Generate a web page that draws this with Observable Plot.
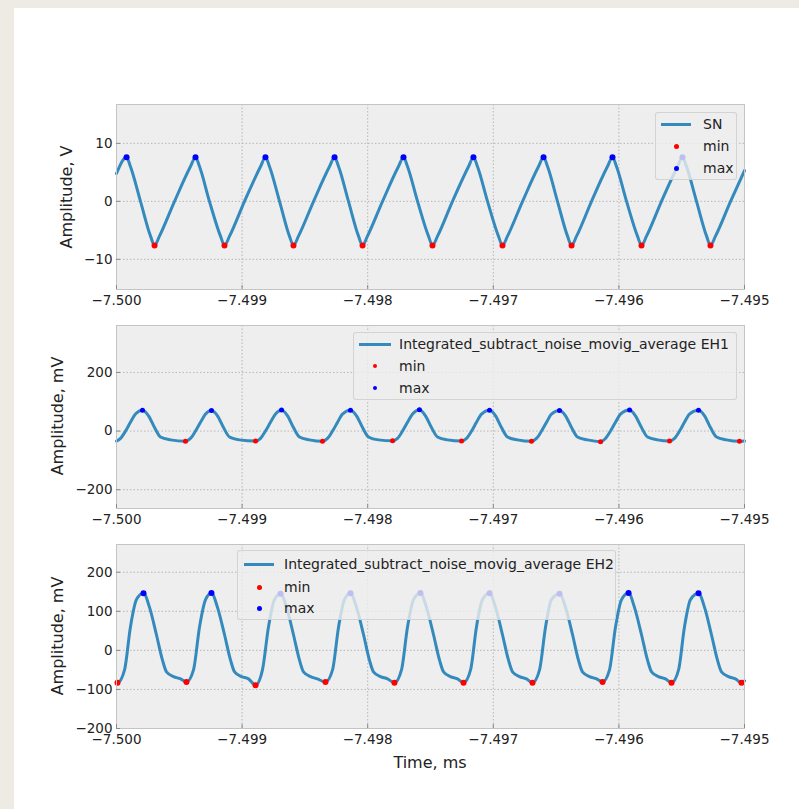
<!DOCTYPE html>
<html><head><meta charset="utf-8">
<script src="https://cdn.jsdelivr.net/npm/d3@7"></script>
<script src="https://cdn.jsdelivr.net/npm/@observablehq/plot@0.6"></script>
<style>
body{margin:0;background:#eeebe5;width:799px;height:809px;overflow:hidden;position:relative;font-family:"DejaVu Sans",sans-serif}
#sheet{position:absolute;left:14px;top:8px;width:785px;height:801px;background:#fff}
.panel{position:absolute;left:0}
.legend{position:absolute;background:rgba(238,238,238,0.8);border:1px solid rgba(204,204,204,0.8);border-radius:3px;box-sizing:border-box;font-size:14px;color:#222}
.legend .h{position:absolute}
.legend .t{position:absolute;line-height:16px;white-space:nowrap}
.alabel{position:absolute;font-size:16px;color:#222;white-space:nowrap;line-height:18px}
</style>
</head><body>
<div id="sheet"></div>
<div id="root"></div>
<script>
// ---------- data ----------
const xTicks = [-7.500, -7.499, -7.498, -7.497, -7.496, -7.495];

// Panel 1 : SN (V)
const snTime = [-7.5,
  -7.49992, -7.499889, -7.499809, -7.499729, -7.499697, -7.499658, -7.499538, -7.499411,
  -7.499371, -7.499339, -7.49926, -7.499172, -7.49914, -7.4991, -7.498981, -7.498853,
  -7.498814, -7.498782, -7.498702, -7.498623, -7.498591, -7.498551, -7.498431, -7.498304,
  -7.498264, -7.498232, -7.498153, -7.498073, -7.498041, -7.498002, -7.497882, -7.497755,
  -7.497715, -7.497683, -7.497603, -7.497516, -7.497484, -7.497444, -7.497325, -7.497197,
  -7.497158, -7.497126, -7.497046, -7.496959, -7.496927, -7.496887, -7.496767, -7.49664,
  -7.4966, -7.496568, -7.496489, -7.496409, -7.496377, -7.496337, -7.496218, -7.496091,
  -7.496051, -7.496019, -7.495939, -7.495852, -7.49582, -7.49578, -7.495661, -7.495533,
  -7.495494, -7.495462, -7.495382, -7.495302, -7.495271, -7.495231, -7.495111, -7.495];
const snValue = [4.8,
  7.6, 6, 0, -6, -7.6, -6, 0, 6,
  7.6, 6, 0, -6, -7.6, -6, 0, 6,
  7.6, 6, 0, -6, -7.6, -6, 0, 6,
  7.6, 6, 0, -6, -7.6, -6, 0, 6,
  7.6, 6, 0, -6, -7.6, -6, 0, 6,
  7.6, 6, 0, -6, -7.6, -6, 0, 6,
  7.6, 6, 0, -6, -7.6, -6, 0, 6,
  7.6, 6, 0, -6, -7.6, -6, 0, 6,
  7.6, 6, 0, -6, -7.6, -6, 0, 5.3];
const snMinTime = [-7.499697, -7.49914, -7.498591, -7.498041, -7.497484, -7.496927, -7.496377, -7.49582, -7.495271];
const snMinValue = [-7.6, -7.6, -7.6, -7.6, -7.6, -7.6, -7.6, -7.6, -7.6];
const snMaxTime = [-7.49992, -7.499371, -7.498814, -7.498264, -7.497715, -7.497158, -7.4966, -7.496051, -7.495494];
const snMaxValue = [7.6, 7.6, 7.6, 7.6, 7.6, 7.6, 7.6, 7.6, 7.6];
const snYTicks = [-10, 0, 10];

// Panel 2 : EH1 (mV)
const eh1Time = [-7.5, -7.499968, -7.499928, -7.499889, -7.499849, -7.499793, -7.499745, -7.499697, -7.49965, -7.49957, -7.499451,
  -7.499411, -7.499371, -7.499331, -7.499291, -7.499244, -7.499196, -7.499148, -7.4991, -7.499021, -7.498893,
  -7.498853, -7.498814, -7.498774, -7.498734, -7.498686, -7.498638, -7.498591, -7.498543, -7.498463, -7.49836,
  -7.49832, -7.49828, -7.49824, -7.498201, -7.498137, -7.498089, -7.498041, -7.497994, -7.497914, -7.497802,
  -7.497763, -7.497723, -7.497683, -7.497643, -7.497588, -7.49754, -7.497492, -7.497444, -7.497365, -7.497253,
  -7.497213, -7.497173, -7.497134, -7.497094, -7.49703, -7.496982, -7.496935, -7.496887, -7.496807, -7.496696,
  -7.496656, -7.496616, -7.496576, -7.496537, -7.496473, -7.496425, -7.496377, -7.49633, -7.49625, -7.496146,
  -7.496107, -7.496067, -7.496027, -7.495987, -7.495915, -7.495868, -7.49582, -7.495772, -7.495693, -7.495597,
  -7.495557, -7.495517, -7.495478, -7.495438, -7.495366, -7.495318, -7.495271, -7.495223, -7.495143, -7.49504,
  -7.495];
const eh1Value = [-34, -25, 0, 30, 58, 71, 52, 12, -20, -30, -35,
  -25, 0, 30, 58, 70, 52, 12, -20, -30, -34,
  -25, 0, 30, 58, 72, 52, 12, -20, -30, -35,
  -25, 0, 30, 58, 71, 52, 12, -20, -30, -33,
  -25, 0, 30, 58, 73, 52, 12, -20, -30, -34,
  -25, 0, 30, 58, 71, 52, 12, -20, -30, -35,
  -25, 0, 30, 58, 70, 52, 12, -20, -30, -36,
  -25, 0, 30, 58, 72, 52, 12, -20, -30, -34,
  -25, 0, 30, 58, 71, 52, 12, -20, -30, -35,
  -34];
const eh1MinTime = [-7.499451, -7.498893, -7.49836, -7.497802, -7.497253, -7.496696, -7.496146, -7.495597, -7.49504];
const eh1MinValue = [-35, -34, -35, -33, -34, -35, -36, -34, -35];
const eh1MaxTime = [-7.499793, -7.499244, -7.498686, -7.498137, -7.497588, -7.49703, -7.496473, -7.495915, -7.495366];
const eh1MaxValue = [71, 70, 72, 71, 73, 71, 70, 72, 71];
const eh1YTicks = [-200, 0, 200];

// Panel 3 : EH2 (mV)
const eh2Time = [-7.5, -7.499992,
  -7.499936, -7.499889, -7.499841, -7.499785, -7.499737, -7.499682, -7.499634, -7.499602, -7.499546, -7.49949, -7.499443,
  -7.499387, -7.499339, -7.499291, -7.499244, -7.499196, -7.49914, -7.499092, -7.49906, -7.499005, -7.498949, -7.498893,
  -7.498838, -7.49879, -7.498742, -7.498694, -7.498646, -7.498591, -7.498543, -7.498511, -7.498455, -7.4984, -7.498336,
  -7.49828, -7.498232, -7.498185, -7.498137, -7.498089, -7.498033, -7.497986, -7.497954, -7.497898, -7.497842, -7.497787,
  -7.497731, -7.497683, -7.497635, -7.49758, -7.497532, -7.497476, -7.497428, -7.497396, -7.497341, -7.497285, -7.497237,
  -7.497181, -7.497134, -7.497086, -7.49703, -7.496982, -7.496927, -7.496879, -7.496847, -7.496791, -7.496736, -7.496688,
  -7.496632, -7.496584, -7.496537, -7.496473, -7.496425, -7.496369, -7.496322, -7.49629, -7.496234, -7.496178, -7.49613,
  -7.496075, -7.496027, -7.495979, -7.495923, -7.495876, -7.49582, -7.495772, -7.49574, -7.495685, -7.495629, -7.495581,
  -7.495525, -7.495478, -7.49543, -7.495366, -7.495318, -7.495263, -7.495215, -7.495183, -7.495127, -7.495072, -7.495024,
  -7.495];
const eh2Value = [-81, -83,
  -50, 60, 130, 146, 110, 40, -25, -55, -67, -73, -81,
  -50, 60, 130, 147, 110, 40, -25, -55, -67, -73, -89,
  -50, 60, 130, 145, 110, 40, -25, -55, -67, -73, -81,
  -50, 60, 130, 146, 110, 40, -25, -55, -67, -73, -83,
  -50, 60, 130, 147, 110, 40, -25, -55, -67, -73, -83,
  -50, 60, 130, 146, 110, 40, -25, -55, -67, -73, -83,
  -50, 60, 130, 145, 110, 40, -25, -55, -67, -73, -81,
  -50, 60, 130, 147, 110, 40, -25, -55, -67, -73, -83,
  -50, 60, 130, 146, 110, 40, -25, -55, -67, -73, -83,
  -78];
const eh2MinTime = [-7.499992, -7.499443, -7.498893, -7.498336, -7.497787, -7.497237, -7.496688, -7.49613, -7.495581, -7.495024];
const eh2MinValue = [-83, -81, -89, -81, -83, -83, -83, -81, -83, -83];
const eh2MaxTime = [-7.499785, -7.499244, -7.498694, -7.498137, -7.49758, -7.49703, -7.496473, -7.495923, -7.495366];
const eh2MaxValue = [146, 147, 145, 146, 147, 146, 145, 147, 146];
const eh2YTicks = [-200, -100, 0, 100, 200];

// ---------- drawing ----------
const LINE = "#348ABD";
const fmtX = d3.format(".3f");
const fmtY = d3.format("d");

function panel(o) {
  const line = o.t.map((t, i) => ({t, v: o.v[i]}));
  const mins = o.minT.map((t, i) => ({t, v: o.minV[i]}));
  const maxs = o.maxT.map((t, i) => ({t, v: o.maxV[i]}));
  const marks = [
    Plot.frame({fill: "#eeeeee", stroke: null}),
    Plot.gridX(xTicks, {stroke: "#a8a8a8", strokeOpacity: 1, strokeDasharray: "1.5,2", strokeWidth: 0.8}),
    Plot.gridY(o.yTicks, {stroke: "#a8a8a8", strokeOpacity: 1, strokeDasharray: "1.5,2", strokeWidth: 0.8}),
    Plot.line(line, {x: "t", y: "v", stroke: LINE, strokeWidth: 3, curve: "monotone-x"}),
    Plot.dot(mins, {x: "t", y: "v", fill: "#ff0000", r: o.r, stroke: null}),
    Plot.dot(maxs, {x: "t", y: "v", fill: "#0000ff", r: o.r, stroke: null}),
    Plot.frame({stroke: "#c4c4c4", strokeWidth: 1}),
    Plot.axisX(xTicks, {tickFormat: fmtX, tickSize: -4, tickPadding: 10, stroke: "#888", fill: "#222", label: null}),
    Plot.axisY(o.yTicks, {tickFormat: fmtY, tickSize: -4, tickPadding: 8, stroke: "#888", fill: "#222", label: null})
  ];
  const svg = Plot.plot({
    width: 799, height: o.height,
    marginLeft: 116, marginRight: 55, marginTop: 10, marginBottom: o.marginBottom,
    style: {fontFamily: "DejaVu Sans", fontSize: "13.5px", background: "transparent", color: "#222", overflow: "visible"},
    x: {domain: [-7.5, -7.495]},
    y: {domain: o.yDomain},
    marks
  });
  svg.classList.add("panel");
  svg.style.top = o.top + "px";
  return svg;
}

function legend(o) {
  const div = document.createElement("div");
  div.className = "legend";
  Object.assign(div.style, {left: o.left + "px", top: o.top + "px", width: o.w + "px", height: o.h + "px"});
  const items = [
    {kind: "line", text: o.label},
    {kind: "dot", color: "#ff0000", text: "min"},
    {kind: "dot", color: "#0000ff", text: "max"}
  ];
  items.forEach((it, i) => {
    const cy = o.rows[i];
    const h = document.createElement("div");
    h.className = "h";
    if (it.kind === "line") {
      Object.assign(h.style, {left: o.hx + "px", top: (cy - 1.5) + "px", width: o.hw + "px", height: "3px", background: LINE});
    } else {
      const s = o.dot;
      Object.assign(h.style, {left: (o.hx + o.hw / 2 - s / 2) + "px", top: (cy - s / 2) + "px", width: s + "px", height: s + "px", borderRadius: "50%", background: it.color});
    }
    div.appendChild(h);
    const t = document.createElement("div");
    t.className = "t";
    t.textContent = it.text;
    Object.assign(t.style, {left: o.tx + "px", top: (cy - 8) + "px"});
    div.appendChild(t);
  });
  return div;
}

function axisLabel(text, cx, cy, rotate) {
  const d = document.createElement("div");
  d.className = "alabel";
  d.textContent = text;
  Object.assign(d.style, {left: cx + "px", top: cy + "px", transform: "translate(-50%,-50%)" + (rotate ? " rotate(-90deg)" : "")});
  return d;
}

const root = document.getElementById("root");
root.appendChild(panel({t: snTime, v: snValue, minT: snMinTime, minV: snMinValue, maxT: snMaxTime, maxV: snMaxValue,
  yDomain: [-15.2, 16.7], yTicks: snYTicks, top: 94, height: 225, marginBottom: 30, r: 3}));
root.appendChild(panel({t: eh1Time, v: eh1Value, minT: eh1MinTime, minV: eh1MinValue, maxT: eh1MaxTime, maxV: eh1MaxValue,
  yDomain: [-264, 360], yTicks: eh1YTicks, top: 315, height: 223, marginBottom: 30, r: 2.5}));
root.appendChild(panel({t: eh2Time, v: eh2Value, minT: eh2MinTime, minV: eh2MinValue, maxT: eh2MaxTime, maxV: eh2MaxValue,
  yDomain: [-200, 271], yTicks: eh2YTicks, top: 534, height: 254, marginBottom: 60, r: 3}));

root.appendChild(axisLabel("Amplitude, V", 67, 197, true));
root.appendChild(axisLabel("Amplitude, mV", 58, 416, true));
root.appendChild(axisLabel("Amplitude, mV", 58, 636, true));
root.appendChild(axisLabel("Time, ms", 430, 763, false));

root.appendChild(legend({left: 655, top: 112, w: 82, h: 68, rows: [11, 33, 55], hx: 5, hw: 30, tx: 47, dot: 5, label: "SN"}));
root.appendChild(legend({left: 353, top: 332, w: 384, h: 68, rows: [11, 33, 55], hx: 5, hw: 32, tx: 45, dot: 4, label: "Integrated_subtract_noise_movig_average EH1"}));
root.appendChild(legend({left: 237, top: 550, w: 379, h: 70, rows: [13, 36, 57], hx: 6, hw: 30, tx: 46, dot: 5, label: "Integrated_subtract_noise_movig_average EH2"}));
</script>
</body></html>
